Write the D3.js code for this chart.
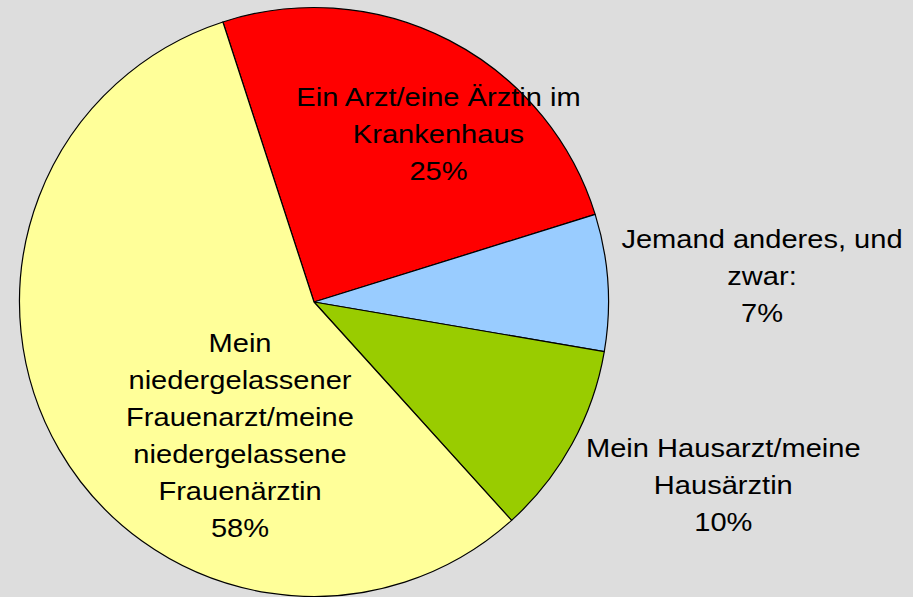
<!DOCTYPE html>
<html>
<head>
<meta charset="utf-8">
<script src="https://cdn.jsdelivr.net/npm/d3@7"></script>
<style>
  html, body { margin: 0; padding: 0; background: #dddddd; }
  svg { display: block; }
</style>
</head>
<body>
<svg id="pie" width="913" height="597"></svg>
<script>
// data (slice sizes from the drawn angles, labels as printed)
var categories = [
  "Ein Arzt/eine Ärztin im Krankenhaus",
  "Jemand anderes, und zwar:",
  "Mein Hausarzt/meine Hausärztin",
  "Mein niedergelassener Frauenarzt/meine niedergelassene Frauenärztin"
];
var values = [25.2, 7.5, 10.6, 56.7];
var pctLabels = ["25%", "7%", "10%", "58%"];
var labelLines = [
  ["Ein Arzt/eine Ärztin im", "Krankenhaus"],
  ["Jemand anderes, und", "zwar:"],
  ["Mein Hausarzt/meine", "Hausärztin"],
  ["Mein", "niedergelassener", "Frauenarzt/meine", "niedergelassene", "Frauenärztin"]
];
var colors = ["#ff0000", "#99ccff", "#99cc00", "#ffff99"];

// layout
var svg = d3.select("#pie"),
    cx = 314, cy = 302,
    radius = 294.5,
    lineH = 37,
    stretch = 1.163;

// where each label block sits (first baseline), relative to the pie centre
var labelOffset = [[124.5, -196], [448, -54.3], [409.3, 154.7], [-74, 49.7]];

var g = svg.append("g").attr("transform", "translate(" + cx + "," + cy + ")");

var pie = d3.pie()
  .sort(null)
  .startAngle(-18.02 * Math.PI / 180)
  .endAngle(-18.02 * Math.PI / 180 + 2 * Math.PI)
  .value(function(d) { return d; });

var arc = d3.arc().innerRadius(0).outerRadius(radius);

g.selectAll("path.slice")
  .data(pie(values))
  .enter().append("path")
  .attr("class", "slice")
  .attr("d", arc)
  .attr("fill", function(d, i) { return colors[i]; })
  .attr("stroke", "#000")
  .attr("stroke-width", 1.2)
  .attr("stroke-linejoin", "round");

var labels = g.selectAll("text.lbl")
  .data(categories)
  .enter().append("text")
  .attr("class", "lbl")
  .attr("transform", function(d, i) {
    return "translate(" + labelOffset[i][0] + "," + labelOffset[i][1] + ") scale(" + stretch + ",1)";
  })
  .attr("text-anchor", "middle")
  .style("font-family", "'Liberation Sans', Arial, sans-serif")
  .style("font-size", "25px")
  .attr("fill", "#000");

labels.each(function(d, i) {
  var t = d3.select(this);
  var lines = labelLines[i].concat([pctLabels[i]]);
  lines.forEach(function(s, j) {
    t.append("tspan")
      .attr("x", 0)
      .attr("dy", j === 0 ? 0 : lineH)
      .text(s);
  });
});
</script>
</body>
</html>
